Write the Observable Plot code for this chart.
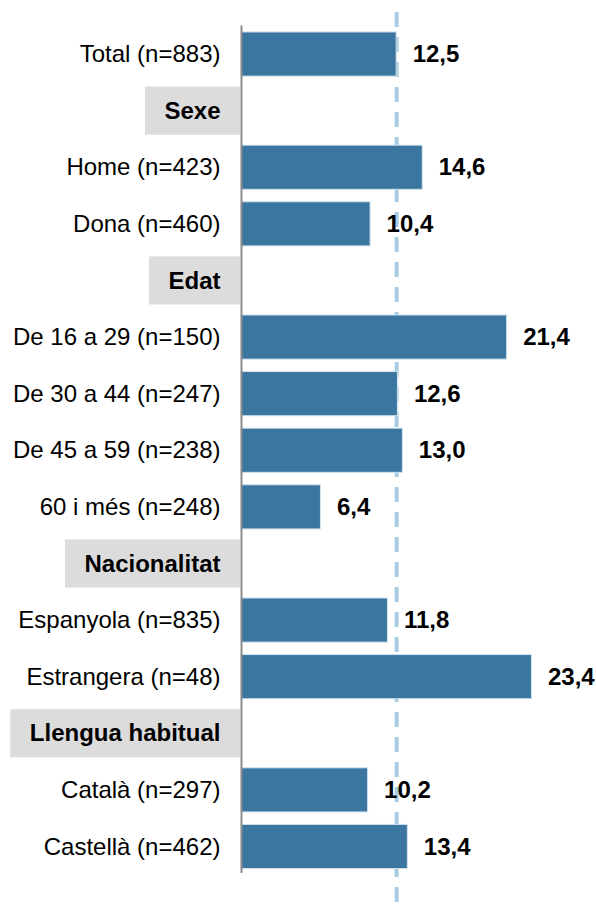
<!DOCTYPE html>
<html>
<head>
<meta charset="utf-8">
<script src="https://cdn.jsdelivr.net/npm/d3@7"></script>
<script src="https://cdn.jsdelivr.net/npm/@observablehq/plot@0.6"></script>
<style>
  html, body { margin: 0; padding: 0; background: #fff; }
</style>
</head>
<body>
<div id="chart"></div>
<script>
const categories = [
  "Total (n=883)", "Sexe", "Home (n=423)", "Dona (n=460)", "Edat",
  "De 16 a 29 (n=150)", "De 30 a 44 (n=247)", "De 45 a 59 (n=238)", "60 i més (n=248)",
  "Nacionalitat", "Espanyola (n=835)", "Estrangera (n=48)",
  "Llengua habitual", "Català (n=297)", "Castellà (n=462)"
];
const headers = ["Sexe", "Edat", "Nacionalitat", "Llengua habitual"];
const values = [12.5, null, 14.6, 10.4, null, 21.4, 12.6, 13.0, 6.4, null, 11.8, 23.4, null, 10.2, 13.4];
const referenceValue = 12.5;

const FONT = "'Liberation Sans', Arial, Helvetica, sans-serif";
const FS = 24;

const rows = categories.map((c, i) => ({label: c, value: values[i], header: headers.includes(c)}));
const bars = rows.filter(d => d.value != null);
const fmt = v => d3.format(".1f")(v).replace(".", ",");

const ctx = document.createElement("canvas").getContext("2d");
ctx.font = `bold ${FS}px ${FONT}`;
const textW = s => ctx.measureText(s).width;

const chart = Plot.plot({
  width: 596,
  height: 909,
  marginLeft: 241,
  marginRight: 0,
  marginTop: 19.5,
  marginBottom: 28,
  style: {fontFamily: FONT, background: "#fff"},
  x: {domain: [0, 28.6], axis: null},
  y: {domain: categories, axis: null, padding: 0.22, round: false},
  marks: [
    ...headers.map(h => Plot.barX([h], {
      x1: () => 0, x2: () => 0, y: d => d,
      fill: "#dcdcdc",
      insetLeft: -(textW(h) + 40), insetRight: 1, insetTop: -2, insetBottom: -2
    })),
    Plot.ruleX([referenceValue], {
      stroke: "#a9cbe3", strokeWidth: 4, strokeDasharray: "15,10",
      insetTop: -7.5, insetBottom: -30
    }),
    Plot.barX(bars, {
      x: "value", y: "label", fill: "#3a76a0", stroke: "#d2e2ee", strokeWidth: 1
    }),
    Plot.ruleX([0], {stroke: "#8c8c8c", strokeWidth: 2, insetTop: 6, insetBottom: 8}),
    Plot.text(rows.filter(d => !d.header), {
      x: () => 0, y: "label", text: "label", textAnchor: "end", dx: -21,
      fontSize: FS, fill: "#000"
    }),
    Plot.text(rows.filter(d => d.header), {
      x: () => 0, y: "label", text: "label", textAnchor: "end", dx: -21,
      fontSize: FS, fontWeight: "bold", fill: "#000"
    }),
    Plot.text(bars, {
      x: "value", y: "label", text: d => fmt(d.value), textAnchor: "start", dx: 16,
      fontSize: FS, fontWeight: "bold", fill: "#000"
    })
  ]
});
document.getElementById("chart").appendChild(chart);
</script>
</body>
</html>
